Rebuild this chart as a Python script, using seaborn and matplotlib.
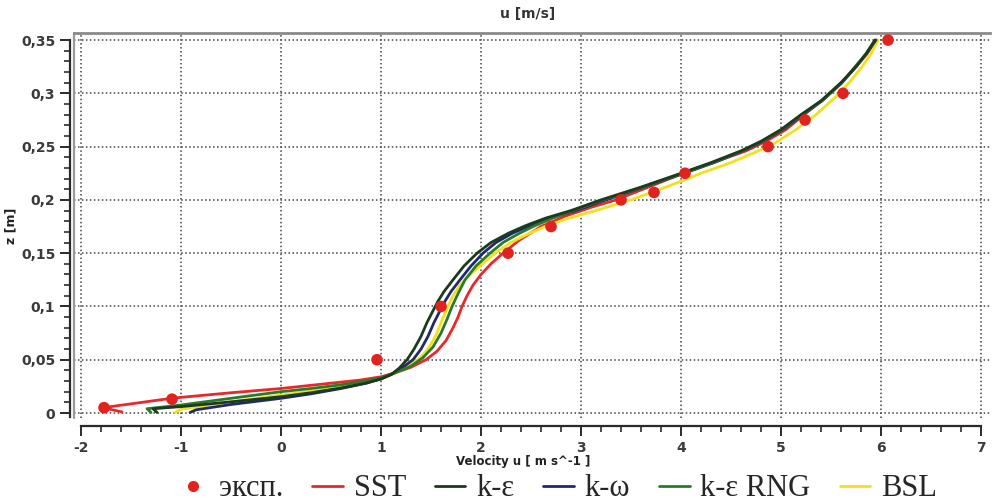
import matplotlib
matplotlib.use("Agg")
import matplotlib.pyplot as plt
import seaborn as sns
import pandas as pd
from matplotlib.lines import Line2D
from matplotlib.ticker import MultipleLocator

# ---------------- data ----------------
exp_u = [-1.77, -1.09, 0.96, 1.60, 2.27, 2.70, 3.40, 3.73, 4.04, 4.87, 5.24, 5.62, 6.07]
exp_z = [0.005, 0.013, 0.050, 0.100, 0.150, 0.175, 0.200, 0.207, 0.225, 0.250, 0.275, 0.300, 0.350]

sst_u = [-1.59, -1.78, -1.08, -0.50, 0.00, 0.50, 0.80, 1.00, 1.15, 1.30, 1.45, 1.56, 1.65, 1.72, 1.77, 1.81, 1.86, 1.92, 2.00, 2.10, 2.22, 2.38, 2.60, 2.85, 3.10, 3.35,
         3.70, 4.05, 4.35, 4.65, 4.85, 5.05, 5.23, 5.42, 5.60, 5.75, 5.86, 5.95]
sst_z = [0.001, 0.005, 0.014, 0.019, 0.023, 0.028, 0.031, 0.034, 0.038, 0.043, 0.050, 0.058, 0.068, 0.080, 0.090, 0.100, 0.110, 0.120, 0.130, 0.140, 0.150, 0.162, 0.175, 0.185, 0.193, 0.200,
         0.213, 0.226, 0.236, 0.246, 0.255, 0.266, 0.280, 0.294, 0.310, 0.325, 0.337, 0.350]

ke_u = [-1.24, -1.28, -1.00, -0.50, 0.00, 0.30, 0.60, 0.85, 1.00, 1.10, 1.18, 1.26, 1.33, 1.40, 1.46, 1.52, 1.57, 1.63, 1.72, 1.83, 1.96, 2.10, 2.28, 2.45, 2.65, 2.90, 3.20,
        3.60, 4.00, 4.30, 4.60, 4.80, 5.00, 5.20, 5.40, 5.60, 5.75, 5.85, 5.94]
ke_z = [0.0005, 0.004, 0.006, 0.0105, 0.0153, 0.019, 0.0235, 0.028, 0.032, 0.036, 0.042, 0.050, 0.060, 0.072, 0.085, 0.096, 0.105, 0.114, 0.125, 0.138, 0.150, 0.160, 0.169, 0.176, 0.183, 0.190, 0.200,
        0.212, 0.225, 0.235, 0.246, 0.255, 0.266, 0.280, 0.293, 0.310, 0.325, 0.337, 0.350]

kw_u = [-0.91, -0.85, -0.50, 0.00, 0.30, 0.60, 0.85, 1.00, 1.12, 1.22, 1.32, 1.40, 1.47, 1.53, 1.59, 1.64, 1.70, 1.79, 1.90, 2.02, 2.15, 2.32, 2.50, 2.70, 2.95, 3.25,
        3.63, 4.03, 4.33, 4.62, 4.82, 5.02, 5.22, 5.41, 5.61, 5.75, 5.85, 5.95]
kw_z = [0.0005, 0.003, 0.008, 0.0138, 0.018, 0.023, 0.028, 0.032, 0.037, 0.043, 0.050, 0.060, 0.072, 0.085, 0.096, 0.105, 0.114, 0.125, 0.138, 0.150, 0.160, 0.169, 0.176, 0.183, 0.190, 0.200,
        0.212, 0.225, 0.235, 0.246, 0.255, 0.266, 0.280, 0.293, 0.310, 0.325, 0.337, 0.350]

rng_u = [-1.30, -1.34, -1.00, -0.50, 0.00, 0.30, 0.60, 0.85, 1.00, 1.15, 1.30, 1.42, 1.52, 1.60, 1.66, 1.71, 1.77, 1.84, 1.95, 2.09, 2.22, 2.37, 2.52, 2.72, 2.95, 3.22,
         3.62, 4.02, 4.32, 4.61, 4.81, 5.01, 5.21, 5.41, 5.61, 5.74, 5.85, 5.94]
rng_z = [0.0005, 0.004, 0.0075, 0.0138, 0.020, 0.023, 0.0265, 0.030, 0.033, 0.038, 0.044, 0.052, 0.062, 0.075, 0.088, 0.100, 0.112, 0.125, 0.138, 0.150, 0.160, 0.168, 0.175, 0.183, 0.191, 0.200,
         0.212, 0.225, 0.235, 0.246, 0.255, 0.266, 0.280, 0.293, 0.310, 0.325, 0.337, 0.350]

bsl_u = [-1.06, -1.00, -0.50, 0.00, 0.30, 0.60, 0.85, 1.00, 1.13, 1.25, 1.37, 1.47, 1.55, 1.61, 1.67, 1.72, 1.79, 1.87, 1.99, 2.14, 2.30, 2.47, 2.64, 2.85, 3.15, 3.50,
         3.85, 4.20, 4.50, 4.75, 4.95, 5.15, 5.35, 5.55, 5.70, 5.81, 5.90, 5.97]
bsl_z = [0.0005, 0.0035, 0.0105, 0.0169, 0.0205, 0.025, 0.029, 0.032, 0.037, 0.043, 0.050, 0.060, 0.073, 0.087, 0.100, 0.110, 0.120, 0.128, 0.138, 0.150, 0.160, 0.168, 0.175, 0.182, 0.190, 0.200,
         0.212, 0.225, 0.235, 0.245, 0.254, 0.266, 0.280, 0.297, 0.312, 0.325, 0.337, 0.350]

x_ticks = [-2, -1, 0, 1, 2, 3, 4, 5, 6, 7]
x_ticklabels = ["-2", "-1", "0", "1", "2", "3", "4", "5", "6", "7"]
y_ticks = [0, 0.05, 0.1, 0.15, 0.2, 0.25, 0.3, 0.35]
y_ticklabels = ["0", "0,05", "0,1", "0,15", "0,2", "0,25", "0,3", "0,35"]

legend_labels = ["эксп.", "SST", "k-ε", "k-ω", "k-ε RNG", "BSL"]

# ---------------- style ----------------
sns.set_style("white")
plt.rcParams["font.family"] = ["DejaVu Sans"]

C_EXP = "#e0231f"
C_SST = "#e8282a"
C_KE = "#1b3a1e"
C_KW = "#1f2a6e"
C_RNG = "#2a7a2c"
C_BSL = "#f0e21a"

fig = plt.figure(figsize=(9.95, 5.04), dpi=100)
ax = fig.add_axes([0.0744, 0.1706, 0.9206, 0.7639])

series = [
    ("SST", sst_u, sst_z, C_SST, 3),
    ("BSL", bsl_u, bsl_z, C_BSL, 4),
    ("k-ω", kw_u, kw_z, C_KW, 5),
    ("k-ε RNG", rng_u, rng_z, C_RNG, 6),
    ("k-ε", ke_u, ke_z, C_KE, 7),
]
for name, u, z, c, zo in series:
    df = pd.DataFrame({"u": u, "z": z})
    sns.lineplot(data=df, x="u", y="z", sort=False, estimator=None,
                 color=c, lw=2.0, ax=ax, zorder=zo)

sns.scatterplot(x=exp_u, y=exp_z, color=C_EXP, s=70, edgecolor="none", ax=ax, zorder=8)

ax.set_xlim(-2.07, 7.09)
ax.set_ylim(-0.0047, 0.3566)

ax.set_xticks(x_ticks)
ax.set_xticklabels(x_ticklabels)
ax.set_yticks(y_ticks)
ax.set_yticklabels(y_ticklabels)
ax.xaxis.set_minor_locator(MultipleLocator(0.2))
ax.yaxis.set_minor_locator(MultipleLocator(0.01))

ax.grid(True, which="major", linestyle=(0, (1, 1.6)), color="#444444", lw=1.1)

# grey frame on top and left of plot area
ax.spines["right"].set_visible(False)
ax.spines["top"].set_color("#8a8a8a")
ax.spines["top"].set_linewidth(2.0)
ax.axvline(ax.get_xlim()[0], color="#9a9a9a", lw=1.6, clip_on=False, zorder=1)

ax.spines["left"].set_position(("outward", 3))
ax.spines["bottom"].set_position(("outward", 6))
ax.spines["left"].set_color("#2a2a2a")
ax.spines["bottom"].set_color("#2a2a2a")
ax.spines["left"].set_linewidth(1.6)
ax.spines["bottom"].set_linewidth(1.6)
ax.spines["bottom"].set_bounds(-2, 7)
ax.spines["left"].set_bounds(-0.004, 0.35)

ax.tick_params(axis="both", which="major", direction="out", length=7, width=1.4,
               color="#2a2a2a", labelsize=10, labelcolor="#3a3a3a")
ax.tick_params(axis="both", which="minor", direction="out", length=4, width=1.2, color="#2a2a2a")
ax.tick_params(axis="x", which="both", bottom=True)
ax.tick_params(axis="y", which="both", left=True)
for lab in ax.get_xticklabels() + ax.get_yticklabels():
    lab.set_fontweight("semibold")

ax.set_xlabel("Velocity u [ m s^-1 ]", fontsize=8.5, fontweight="bold", color="#222222")
ax.set_ylabel("z [m]", fontsize=9, fontweight="bold", color="#222222")
ax.xaxis.set_label_coords(0.49, -0.095)
ax.yaxis.set_label_coords(-0.062, 0.5)
fig.text(0.53, 0.972, "u [m/s]", ha="center", va="center", fontsize=10, fontweight="bold", color="#333333")

handles = [
    Line2D([], [], marker="o", ls="none", color=C_EXP, markersize=7),
    Line2D([], [], color=C_SST, lw=2),
    Line2D([], [], color=C_KE, lw=2),
    Line2D([], [], color=C_KW, lw=2),
    Line2D([], [], color=C_RNG, lw=2),
    Line2D([], [], color=C_BSL, lw=2),
]
fig.legend(handles, legend_labels, loc="center", bbox_to_anchor=(0.56, 0.030), ncol=6,
           frameon=False, prop={"family": ["Liberation Serif", "DejaVu Serif"], "size": 22},
           handlelength=1.0, handletextpad=0.35, columnspacing=0.95, borderaxespad=0)

fig.savefig("out.png", dpi=100)
